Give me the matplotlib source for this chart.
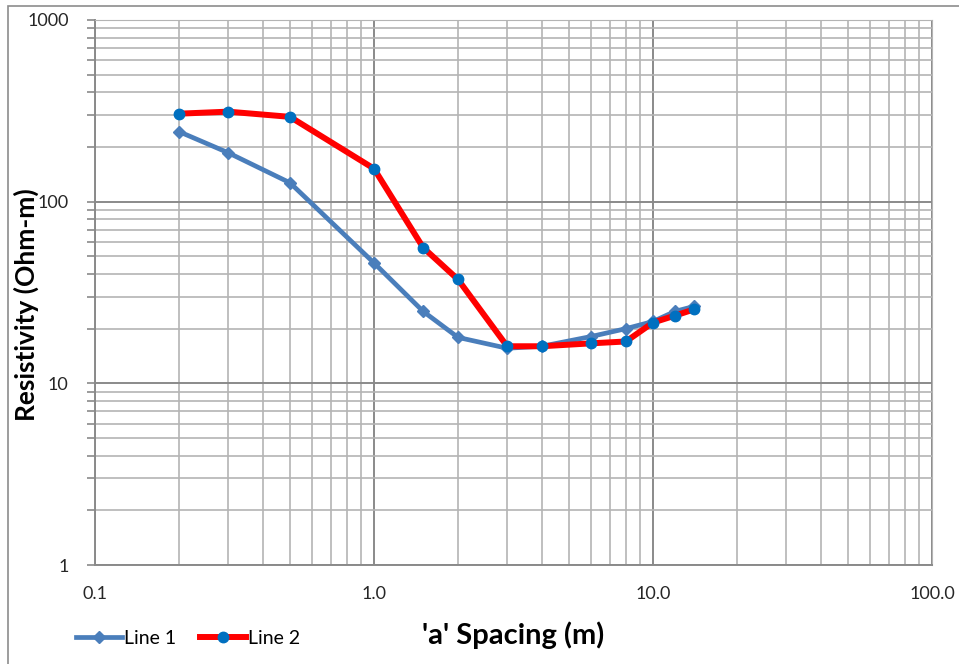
import matplotlib
matplotlib.use('Agg')
import matplotlib.pyplot as plt
from matplotlib.ticker import LogLocator, FixedLocator, NullFormatter
from matplotlib.patches import Rectangle

plt.rcParams['font.family'] = ['Lato', 'DejaVu Sans']

# data
spacing = [0.2, 0.3, 0.5, 1.0, 1.5, 2.0, 3.0, 4.0, 6.0, 8.0, 10.0, 12.0, 14.0]
line1 = [243, 186, 127, 46, 24.9, 17.9, 15.6, 16.0, 18.1, 20.0, 21.9, 24.9, 26.5]
line2 = [305, 313, 293, 152, 55.9, 37.3, 16.0, 16.0, 16.6, 17.0, 21.6, 23.6, 25.5]
x_ticks = [0.1, 1.0, 10.0, 100.0]
x_tick_labels = ['0.1', '1.0', '10.0', '100.0']
y_ticks = [1, 10, 100, 1000]
y_tick_labels = ['1', '10', '100', '1000']

fig = plt.figure(figsize=(9.59, 6.64), dpi=100)
ax = fig.add_axes([95/959, 99/664, 837/959, 545/664])

# outer chart border
fig.patches.append(Rectangle((8/959, -0.01), 1.0, 1 - 6/664 + 0.01, transform=fig.transFigure,
                             fill=False, edgecolor='#8c8c8c', linewidth=1.2))

ax.set_xscale('log')
ax.set_yscale('log')
ax.set_xlim(0.1, 100)
ax.set_ylim(1, 1000)

ax.plot(spacing, line1, color='#4a7ebb', linewidth=3.4, marker='D', markersize=6,
        markerfacecolor='#4a7ebb', markeredgecolor='#4a7ebb', label='Line 1', zorder=3)
ax.plot(spacing, line2, color='#ff0000', linewidth=4.3, marker='o', markersize=7.5,
        markerfacecolor='#0070c0', markeredgecolor='#0070c0', label='Line 2', zorder=4)

ax.xaxis.set_major_locator(FixedLocator(x_ticks))
ax.set_xticklabels(x_tick_labels)
ax.yaxis.set_major_locator(FixedLocator(y_ticks))
ax.set_yticklabels(y_tick_labels)
ax.xaxis.set_minor_locator(LogLocator(base=10, subs=range(2, 10)))
ax.yaxis.set_minor_locator(LogLocator(base=10, subs=range(2, 10)))
ax.xaxis.set_minor_formatter(NullFormatter())
ax.yaxis.set_minor_formatter(NullFormatter())

ax.grid(which='minor', color='#b4b4b4', linewidth=1.2)
ax.grid(which='major', color='#8a8a8a', linewidth=1.4)
ax.set_axisbelow(True)

ax.tick_params(axis='x', which='both', length=0, pad=15, labelsize=13, labelcolor='#262626')
ax.tick_params(axis='y', which='major', length=6, width=1.2, color='#8a8a8a', pad=13, labelsize=13, labelcolor='#262626')
ax.tick_params(axis='y', which='minor', length=6, width=1.2, color='#8a8a8a')

for side in ['top', 'right']:
    ax.spines[side].set_color('#b4b4b4')
for side in ['left', 'bottom']:
    ax.spines[side].set_color('#8a8a8a')
    ax.spines[side].set_linewidth(1.4)

ax.set_xlabel("'a' Spacing (m)", fontsize=21, fontweight='bold')
ax.xaxis.set_label_coords(0.5, -(635 - 565) / 545)
ax.xaxis.label.set_va('center')
ax.set_ylabel('Resistivity (Ohm-m)', fontsize=19, fontweight='bold')
ax.yaxis.set_label_coords(-(95 - 26) / 837, (565 - 305) / 545)
ax.yaxis.label.set_va('center')

fig.legend(loc='center left', bbox_to_anchor=(58/959, 1 - 638/664), ncol=2, frameon=False,
           fontsize=14, handlelength=2.4, handletextpad=0.1, columnspacing=1.2)

fig.savefig('out.png', dpi=100)
